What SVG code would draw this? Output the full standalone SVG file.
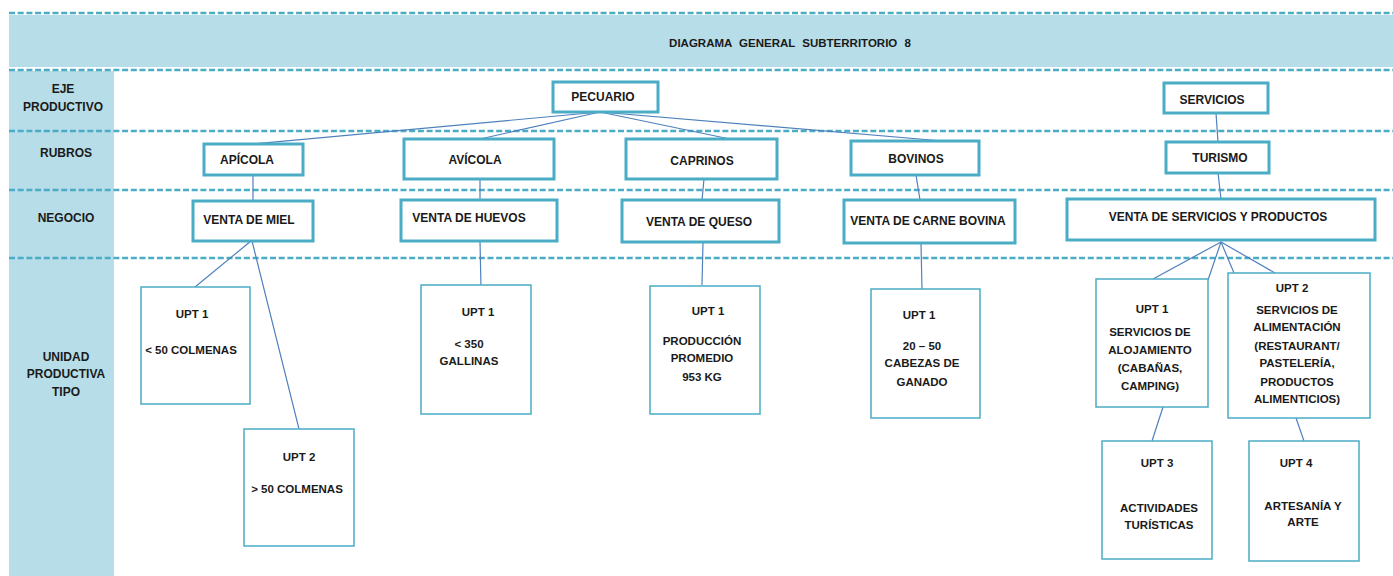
<svg xmlns="http://www.w3.org/2000/svg" width="1393" height="576" viewBox="0 0 1393 576">
<style>
text{font-family:"Liberation Sans",Arial,sans-serif;font-weight:bold;font-size:12px;fill:#1a1a1a;text-anchor:middle;dominant-baseline:central}
.band{fill:#b7dde8}
.dash{stroke:#4bacc6;stroke-width:2.5;stroke-dasharray:6 2.7;fill:none}
.nb{fill:#fff;stroke:#4bacc6;stroke-width:3}
.ub{fill:#fff;stroke:#4bacc6;stroke-width:1.5}
.c{stroke:#4f81bd;stroke-width:1.2;fill:none}
.sm{font-size:11.5px}
</style>
<rect width="1393" height="576" fill="#fff"/>
<g id="background">
<rect class="band" x="9" y="15" width="1384" height="52"/>
<rect class="band" x="9" y="71" width="105" height="505"/>
<line class="dash" x1="9" y1="13" x2="1393" y2="13"/>
<line class="dash" x1="9" y1="70" x2="1393" y2="70"/>
<line class="dash" x1="9" y1="131" x2="1393" y2="131"/>
<line class="dash" x1="9" y1="190" x2="1393" y2="190"/>
<line class="dash" x1="9" y1="258" x2="1393" y2="258"/>
<text x="790" y="43" style="font-size:11.5px;word-spacing:4px">DIAGRAMA GENERAL SUBTERRITORIO 8</text>
<text x="63" y="89">EJE</text>
<text x="63" y="107">PRODUCTIVO</text>
<text x="66" y="153">RUBROS</text>
<text x="66" y="218">NEGOCIO</text>
<text x="66" y="357">UNIDAD</text>
<text x="66" y="374">PRODUCTIVA</text>
<text x="66" y="392">TIPO</text>
</g>
<g id="connectors">
<line class="c" x1="600" y1="112" x2="253" y2="144"/>
<line class="c" x1="600" y1="112" x2="480" y2="139"/>
<line class="c" x1="600" y1="112" x2="730" y2="139"/>
<line class="c" x1="600" y1="112" x2="943" y2="141"/>
<line class="c" x1="253" y1="175" x2="253" y2="201"/>
<line class="c" x1="480" y1="179" x2="480" y2="200"/>
<line class="c" x1="704" y1="179" x2="702" y2="200"/>
<line class="c" x1="916" y1="175" x2="920" y2="200"/>
<line class="c" x1="1216" y1="113" x2="1218" y2="142"/>
<line class="c" x1="1218" y1="173" x2="1221" y2="199"/>
<line class="c" x1="251" y1="241" x2="195" y2="287"/>
<line class="c" x1="252" y1="241" x2="299" y2="429"/>
<line class="c" x1="480" y1="241" x2="481" y2="288"/>
<line class="c" x1="703" y1="242" x2="702" y2="285"/>
<line class="c" x1="921" y1="243" x2="922" y2="290"/>
<line class="c" x1="1221" y1="242" x2="1153" y2="279"/>
<line class="c" x1="1221" y1="242" x2="1208" y2="280"/>
<line class="c" x1="1221" y1="242" x2="1234" y2="273"/>
<line class="c" x1="1221" y1="242" x2="1275" y2="273"/>
<line class="c" x1="1163" y1="407" x2="1152" y2="441"/>
<line class="c" x1="1296" y1="418" x2="1304" y2="441"/>
</g>
<g id="pecuario"><rect class="nb" x="553" y="82" width="105" height="30"/><text x="603" y="97">PECUARIO</text></g>
<g id="servicios"><rect class="nb" x="1164" y="83" width="104" height="30"/><text x="1212" y="100">SERVICIOS</text></g>
<g id="apicola"><rect class="nb" x="204" y="144" width="99" height="31"/><text x="247" y="160">APÍCOLA</text></g>
<g id="avicola"><rect class="nb" x="404" y="139" width="150" height="40"/><text x="475" y="160">AVÍCOLA</text></g>
<g id="caprinos"><rect class="nb" x="626" y="139" width="151" height="40"/><text x="702" y="161">CAPRINOS</text></g>
<g id="bovinos"><rect class="nb" x="851" y="141" width="128" height="34"/><text x="916" y="159">BOVINOS</text></g>
<g id="turismo"><rect class="nb" x="1166" y="142" width="103" height="31"/><text x="1220" y="158">TURISMO</text></g>
<g id="venta-miel"><rect class="nb" x="193" y="201" width="120" height="40"/><text x="249" y="220">VENTA DE MIEL</text></g>
<g id="venta-huevos"><rect class="nb" x="401" y="200" width="156" height="41"/><text x="469" y="218">VENTA DE HUEVOS</text></g>
<g id="venta-queso"><rect class="nb" x="622" y="200" width="157" height="42"/><text x="699" y="222">VENTA DE QUESO</text></g>
<g id="venta-carne"><rect class="nb" x="844" y="200" width="171" height="43"/><text x="928" y="221">VENTA DE CARNE BOVINA</text></g>
<g id="venta-servicios"><rect class="nb" x="1067" y="199" width="308" height="41"/><text x="1218" y="217">VENTA DE SERVICIOS Y PRODUCTOS</text></g>
<g id="upt1-apicola"><rect class="ub" x="141" y="287" width="109" height="117"/><text class="sm" x="192" y="314">UPT 1</text><text class="sm" x="191" y="350">&lt; 50 COLMENAS</text></g>
<g id="upt2-apicola"><rect class="ub" x="244" y="429" width="110" height="117"/><text class="sm" x="299" y="457">UPT 2</text><text class="sm" x="297" y="489">&gt; 50 COLMENAS</text></g>
<g id="upt1-avicola"><rect class="ub" x="421" y="285" width="110" height="129"/><text class="sm" x="478" y="312">UPT 1</text><text class="sm" x="469" y="344">&lt; 350</text><text class="sm" x="469" y="361">GALLINAS</text></g>
<g id="upt1-caprinos"><rect class="ub" x="650" y="286" width="110" height="128"/><text class="sm" x="708" y="311">UPT 1</text><text class="sm" x="702" y="341">PRODUCCIÓN</text><text class="sm" x="702" y="358">PROMEDIO</text><text class="sm" x="702" y="377">953 KG</text></g>
<g id="upt1-bovinos"><rect class="ub" x="871" y="289" width="109" height="129"/><text class="sm" x="919" y="315">UPT 1</text><text class="sm" x="922" y="346">20 – 50</text><text class="sm" x="922" y="363">CABEZAS DE</text><text class="sm" x="922" y="382">GANADO</text></g>
<g id="upt1-servicios"><rect class="ub" x="1096" y="279" width="112" height="128"/><text class="sm" x="1152" y="309">UPT 1</text><text class="sm" x="1150" y="332">SERVICIOS DE</text><text class="sm" x="1150" y="350">ALOJAMIENTO</text><text class="sm" x="1150" y="368">(CABAÑAS,</text><text class="sm" x="1150" y="386">CAMPING)</text></g>
<g id="upt2-servicios"><rect class="ub" x="1228" y="273" width="142" height="145"/><text class="sm" x="1292" y="288">UPT 2</text><text class="sm" x="1297" y="310">SERVICIOS DE</text><text class="sm" x="1297" y="327">ALIMENTACIÓN</text><text class="sm" x="1297" y="346">(RESTAURANT/</text><text class="sm" x="1297" y="363">PASTELERÍA,</text><text class="sm" x="1297" y="382">PRODUCTOS</text><text class="sm" x="1297" y="399">ALIMENTICIOS)</text></g>
<g id="upt3"><rect class="ub" x="1102" y="441" width="110" height="118"/><text class="sm" x="1157" y="463">UPT 3</text><text class="sm" x="1159" y="508">ACTIVIDADES</text><text class="sm" x="1159" y="525">TURÍSTICAS</text></g>
<g id="upt4"><rect class="ub" x="1249" y="441" width="110" height="120"/><text class="sm" x="1296" y="463">UPT 4</text><text class="sm" x="1303" y="506">ARTESANÍA Y</text><text class="sm" x="1303" y="522">ARTE</text></g>
</svg>
